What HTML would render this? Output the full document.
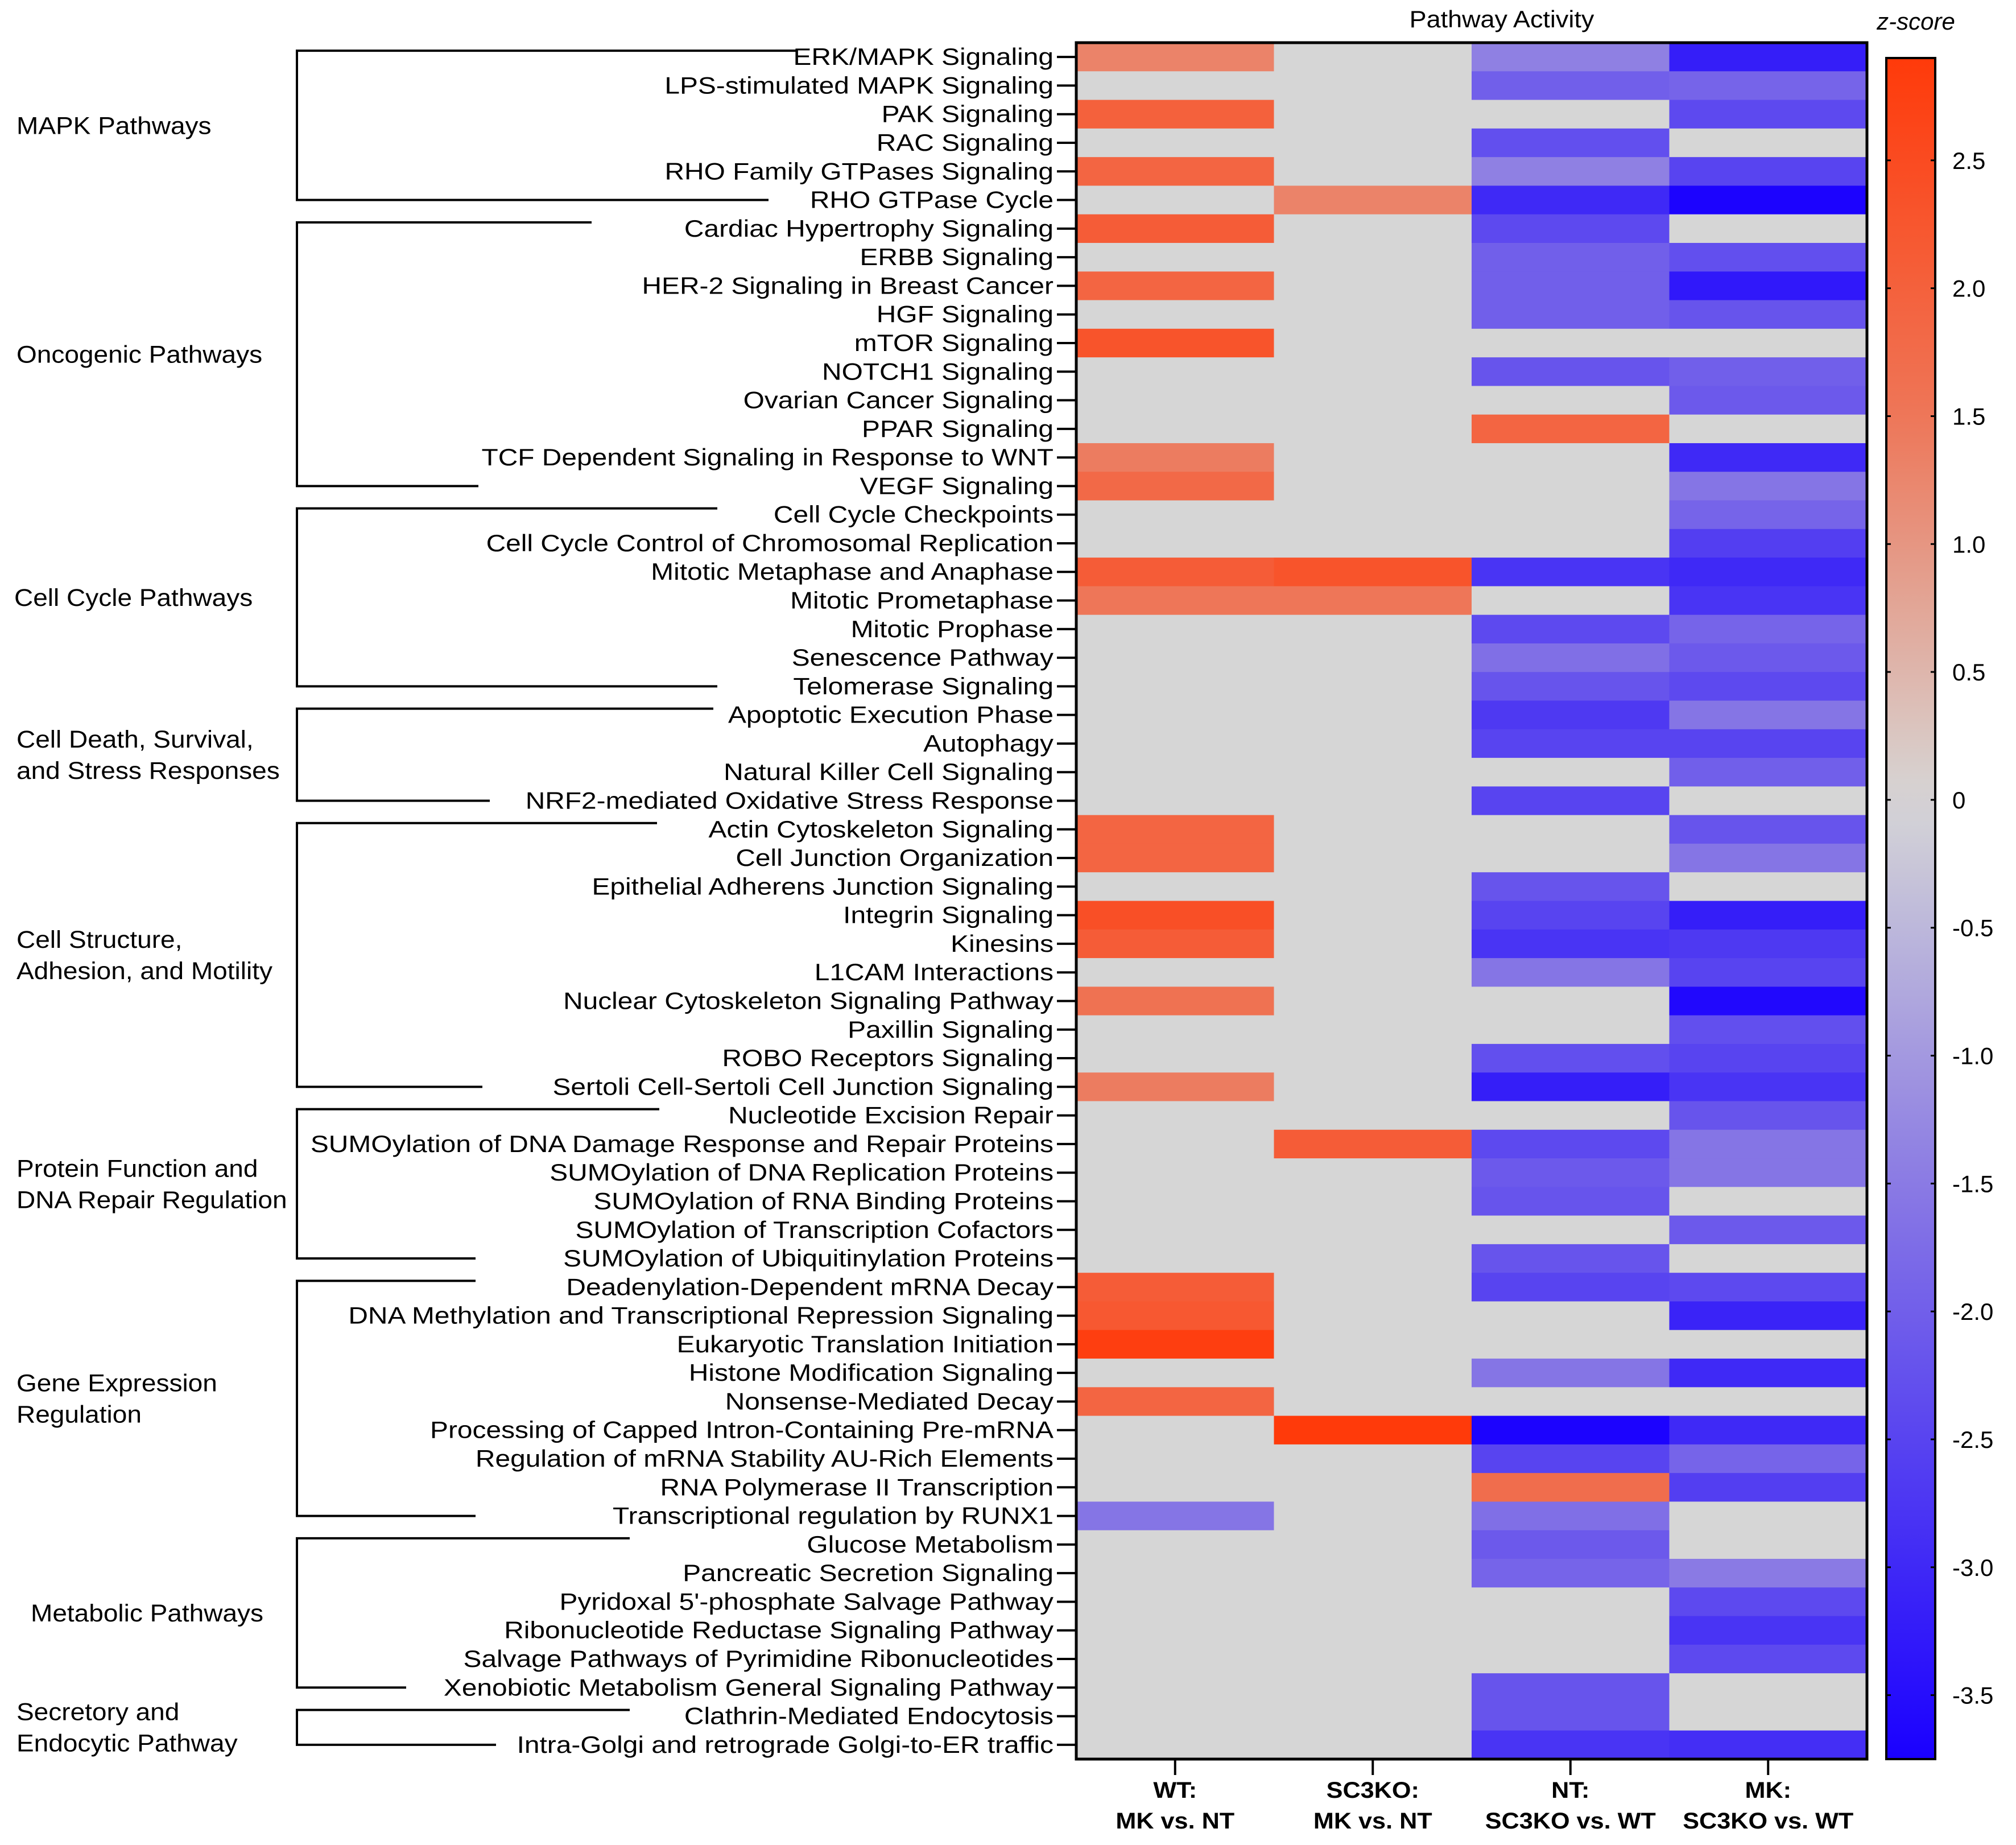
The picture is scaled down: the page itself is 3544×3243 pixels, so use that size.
<!DOCTYPE html>
<html><head><meta charset="utf-8"><style>
html,body{margin:0;padding:0;background:#fff}
svg{display:block}
text{font-family:"Liberation Sans",Arial,sans-serif;fill:#000}
</style></head><body>
<svg id="chart" width="3544" height="3243" viewBox="0 0 3544 3243" xmlns="http://www.w3.org/2000/svg">
<text x="2640" y="48" font-size="42" text-anchor="middle" transform="translate(2640,0) scale(1.07,1) translate(-2640,0)">Pathway Activity</text>
<text x="3368" y="52" font-size="42" font-style="italic" text-anchor="middle">z-score</text>
<defs><linearGradient id="cbg" x1="0" y1="0" x2="0" y2="1"></linearGradient></defs>
<g id="cells"></g><g id="rowlabels"></g><g id="groups"></g><g id="cbar"></g><g id="xlabels"></g>
</svg>
<script>
const pathways = ["ERK/MAPK Signaling","LPS-stimulated MAPK Signaling","PAK Signaling","RAC Signaling","RHO Family GTPases Signaling","RHO GTPase Cycle","Cardiac Hypertrophy Signaling","ERBB Signaling","HER-2 Signaling in Breast Cancer","HGF Signaling","mTOR Signaling","NOTCH1 Signaling","Ovarian Cancer Signaling","PPAR Signaling","TCF Dependent Signaling in Response to WNT","VEGF Signaling","Cell Cycle Checkpoints","Cell Cycle Control of Chromosomal Replication","Mitotic Metaphase and Anaphase","Mitotic Prometaphase","Mitotic Prophase","Senescence Pathway","Telomerase Signaling","Apoptotic Execution Phase","Autophagy","Natural Killer Cell Signaling","NRF2-mediated Oxidative Stress Response","Actin Cytoskeleton Signaling","Cell Junction Organization","Epithelial Adherens Junction Signaling","Integrin Signaling","Kinesins","L1CAM Interactions","Nuclear Cytoskeleton Signaling Pathway","Paxillin Signaling","ROBO Receptors Signaling","Sertoli Cell-Sertoli Cell Junction Signaling","Nucleotide Excision Repair","SUMOylation of DNA Damage Response and Repair Proteins","SUMOylation of DNA Replication Proteins","SUMOylation of RNA Binding Proteins","SUMOylation of Transcription Cofactors","SUMOylation of Ubiquitinylation Proteins","Deadenylation-Dependent mRNA Decay","DNA Methylation and Transcriptional Repression Signaling","Eukaryotic Translation Initiation","Histone Modification Signaling","Nonsense-Mediated Decay","Processing of Capped Intron-Containing Pre-mRNA","Regulation of mRNA Stability AU-Rich Elements","RNA Polymerase II Transcription","Transcriptional regulation by RUNX1","Glucose Metabolism","Pancreatic Secretion Signaling","Pyridoxal 5'-phosphate Salvage Pathway","Ribonucleotide Reductase Signaling Pathway","Salvage Pathways of Pyrimidine Ribonucleotides","Xenobiotic Metabolism General Signaling Pathway","Clathrin-Mediated Endocytosis","Intra-Golgi and retrograde Golgi-to-ER traffic"];
const comparisons = [["WT:","MK vs. NT"],["SC3KO:","MK vs. NT"],["NT:","SC3KO vs. WT"],["MK:","SC3KO vs. WT"]];
const wtMkVsNt = [1.3,0,2.0,0,1.9,0,2.1,0,1.9,0,2.3,0,0,0,1.4,1.8,0,0,2.1,1.5,0,0,0,0,0,0,0,1.9,1.9,0,2.4,2.1,0,1.6,0,0,1.4,0,0,0,0,0,0,2.1,2.2,2.8,0,1.9,0,0,0,-1.6,0,0,0,0,0,0,0,0];
const sc3koMkVsNt = [0,0,0,0,0,1.3,0,0,0,0,0,0,0,0,0,0,0,0,2.3,1.5,0,0,0,0,0,0,0,0,0,0,0,0,0,0,0,0,0,0,2.1,0,0,0,0,0,0,0,0,0,2.9,0,0,0,0,0,0,0,0,0,0,0];
const ntSc3koVsWt = [-1.4,-2.0,0,-2.3,-1.4,-3.0,-2.4,-2.0,-2.0,-2.0,0,-2.2,0,1.9,0,0,0,0,-2.8,0,-2.4,-1.7,-2.2,-2.7,-2.5,0,-2.5,0,0,-2.2,-2.5,-2.8,-1.6,0,0,-2.3,-3.2,0,-2.4,-2.1,-2.2,0,-2.2,-2.5,0,0,-1.6,0,-3.7,-2.5,1.7,-1.7,-2.1,-1.9,0,0,0,-2.2,-2.2,-2.8];
const mkSc3koVsWt = [-3.2,-1.9,-2.4,0,-2.5,-3.7,0,-2.3,-3.3,-2.2,0,-2.0,-2.1,0,-3.0,-1.6,-1.9,-2.6,-3.0,-2.8,-1.9,-2.1,-2.4,-1.6,-2.5,-2.0,0,-2.2,-1.6,0,-3.2,-2.7,-2.5,-3.6,-2.3,-2.5,-2.8,-2.2,-1.6,-1.6,0,-2.1,0,-2.4,-3.1,0,-3.0,0,-3.0,-1.9,-2.6,0,0,-1.5,-2.4,-2.8,-2.4,0,0,-2.9];
const groupNames = [["MAPK Pathways"],["Oncogenic Pathways"],["Cell Cycle Pathways"],["Cell Death, Survival,","and Stress Responses"],["Cell Structure,","Adhesion, and Motility"],["Protein Function and","DNA Repair Regulation"],["Gene Expression","Regulation"],["Metabolic Pathways"],["Secretory and","Endocytic Pathway"]];
const groupSizes = [6,10,7,4,10,6,9,6,2];
const cbTicks = [2.5,2.0,1.5,1.0,0.5,0,-0.5,-1.0,-1.5,-2.0,-2.5,-3.0,-3.5];

const NS="http://www.w3.org/2000/svg";
const series=[wtMkVsNt,sc3koMkVsNt,ntSc3koVsWt,mkSc3koVsWt];
const L=1892,R=3282,T=75,B=3092;
const rowH=(B-T)/pathways.length, colW=(R-L)/comparisons.length;
const zMax=2.9,zMin=-3.75,cbT=102,cbB=3092,cbL=3316,cbR=3402;
function yRow(i){return T+i*rowH;}
function xCol(j){return L+j*colW;}
function yZ(z){return cbT+(zMax-z)/(zMax-zMin)*(cbB-cbT);}
const stops=[[-3.75,[26,0,255]],[-1.5,[138,122,228]],[0,[214,214,214]],[1.5,[238,118,88]],[2.9,[255,58,10]]];
function color(z){
  if(z<=stops[0][0])return 'rgb('+stops[0][1]+')';
  for(let k=1;k<stops.length;k++){if(z<=stops[k][0]){const a=stops[k-1],b=stops[k],t=(z-a[0])/(b[0]-a[0]);
    return 'rgb('+a[1].map((v,i)=>Math.round(v+(b[1][i]-v)*t)).join(',')+')';}}
  return 'rgb('+stops[stops.length-1][1]+')';
}
function el(tag,attrs,parent){const e=document.createElementNS(NS,tag);for(const k in attrs)e.setAttribute(k,attrs[k]);parent.appendChild(e);return e;}
const cells=document.getElementById('cells');
series.forEach((vals,j)=>{vals.forEach((v,i)=>{
  const r=el('rect',{x:xCol(j),y:yRow(i),width:colW+0.5,height:rowH+0.5,fill:color(v)},cells);
  
  
});});
const frame=el('rect',{x:L,y:T,width:R-L,height:B-T,fill:'none',stroke:'#000','stroke-width':5},cells);


const rl=document.getElementById('rowlabels');
pathways.forEach((p,i)=>{
  const cy=yRow(i)+rowH/2;
  const tk=el('line',{x1:1858,x2:L,y1:cy,y2:cy,stroke:'#000','stroke-width':4},rl);
  
  
  const t=el('text',{x:0,y:0,'font-size':42,'text-anchor':'end',transform:`translate(1852,${cy+14}) scale(1.14,1)`},rl);
  t.textContent=p;
  
  
});
const gg=document.getElementById('groups');
const BX=522;
const topEnds=[1401,1040,1261,1254,1155,1159,836,1107,1107];
const botEnds=[1351,841,1261,861,848,836,836,714,872];
const labelX=[29,29,25,29,29,29,29,54,29];
let idx=0;
groupSizes.forEach((n,g)=>{
  const y1=yRow(idx)+rowH/2-11, y2=yRow(idx+n-1)+rowH/2;
  const p=el('path',{d:`M${topEnds[g]},${y1}H${BX}V${y2}H${botEnds[g]}`,fill:'none',stroke:'#000','stroke-width':4},gg);
  
  
  const mid=(y1+y2)/2, lines=groupNames[g];
  lines.forEach((ln,k)=>{
    const ty=mid+15+(k-(lines.length-1)/2)*55;
    const t=el('text',{x:0,y:0,'font-size':43,transform:`translate(${labelX[g]},${ty}) scale(1.07,1)`},gg);
    t.textContent=ln;
    
    
  });
  idx+=n;
});
const cb=document.getElementById('cbar');
const grad=document.getElementById('cbg');
for(let s=0;s<=40;s++){const z=zMax-(zMax-zMin)*s/40;el('stop',{offset:(s/40),'stop-color':color(z)},grad);}
const bar=el('rect',{x:cbL,y:cbT,width:cbR-cbL,height:cbB-cbT,fill:'url(#cbg)',stroke:'#000','stroke-width':4},cb);


cbTicks.forEach(v=>{
  const y=yZ(v);
  el('line',{x1:cbL,x2:cbL+8,y1:y,y2:y,stroke:'#000','stroke-width':3},cb);
  el('line',{x1:cbR-8,x2:cbR,y1:y,y2:y,stroke:'#000','stroke-width':3},cb);
  const t=el('text',{x:3432,y:y+15,'font-size':42},cb);
  t.textContent=(v===0?'0':v.toFixed(1));
  
  
});
const xl=document.getElementById('xlabels');
comparisons.forEach((c,j)=>{
  const cx=xCol(j)+colW/2;
  el('line',{x1:cx,x2:cx,y1:B,y2:B+28,stroke:'#000','stroke-width':4},xl);
  c.forEach((ln,k)=>{
    const t=el('text',{x:0,y:0,'font-size':40,'font-weight':'bold','text-anchor':'middle',transform:`translate(${cx},${3160+k*54}) scale(1.08,1)`},xl);
    t.textContent=ln;
    
    
  });
});
</script>
</body></html>
